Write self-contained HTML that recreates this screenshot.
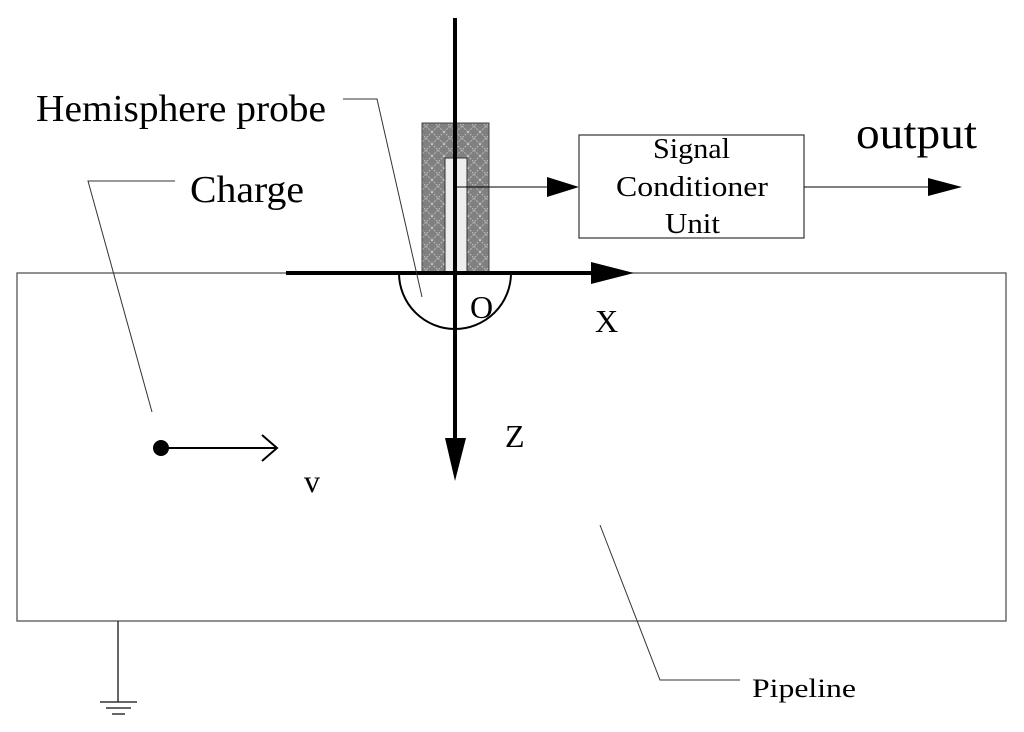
<!DOCTYPE html>
<html><head><style>body{margin:0;background:#fff}svg{display:block}text{font-family:"Liberation Serif",serif;fill:#000}</style></head>
<body>
<svg width="1024" height="732" viewBox="0 0 1024 732" xmlns="http://www.w3.org/2000/svg">
<defs>
<pattern id="hatch" width="12" height="12" patternUnits="userSpaceOnUse">
<rect width="12" height="12" fill="#808080"/>
<path d="M0 0L12 12M12 0L0 12" stroke="#c8c8c8" stroke-width="1" stroke-dasharray="1.5 1.5"/>
</pattern>
</defs>
<rect x="17" y="273" width="989" height="348" fill="none" stroke="#555" stroke-width="1.3"/>
<rect x="422" y="123" width="67" height="150" fill="url(#hatch)" stroke="#444" stroke-width="1"/>
<rect x="445" y="158" width="22" height="115" fill="#eee" stroke="#333" stroke-width="1"/>
<path d="M399 273 A56 56 0 0 0 511 273" fill="none" stroke="#000" stroke-width="2"/>
<line x1="286" y1="273" x2="595" y2="273" stroke="#000" stroke-width="4"/>
<polygon points="591,262 634,273 591,284" fill="#000"/>
<line x1="455" y1="18" x2="455" y2="442" stroke="#000" stroke-width="4"/>
<polygon points="445,438 466,438 455,481" fill="#000"/>
<line x1="455" y1="187" x2="550" y2="187" stroke="#000" stroke-width="1"/>
<polygon points="547,177 579,187 547,197" fill="#000"/>
<rect x="579" y="135" width="225" height="103" fill="none" stroke="#333" stroke-width="1.2"/>
<line x1="804" y1="187" x2="930" y2="187" stroke="#000" stroke-width="1"/>
<polygon points="928,178 962,187 928,196" fill="#000"/>
<polyline points="343,99 377,99 422,297" fill="none" stroke="#333" stroke-width="1"/>
<polyline points="175,181 88,181 152,412" fill="none" stroke="#333" stroke-width="1"/>
<polyline points="600,525 660,680 740,680" fill="none" stroke="#333" stroke-width="1"/>
<circle cx="161" cy="448" r="8" fill="#000"/>
<line x1="161" y1="448" x2="276" y2="448" stroke="#000" stroke-width="2"/>
<polyline points="262,435 277,448 262,461" fill="none" stroke="#000" stroke-width="2"/>
<line x1="118" y1="621" x2="118" y2="702" stroke="#333" stroke-width="1.5"/>
<line x1="100" y1="702" x2="137" y2="702" stroke="#333" stroke-width="1.5"/>
<line x1="106" y1="708" x2="131" y2="708" stroke="#333" stroke-width="1.5"/>
<line x1="112" y1="714" x2="125" y2="714" stroke="#333" stroke-width="1.5"/>
<text x="36" y="121" font-size="38" textLength="290" lengthAdjust="spacingAndGlyphs">Hemisphere probe</text>
<text x="190" y="202" font-size="38" textLength="114" lengthAdjust="spacingAndGlyphs">Charge</text>
<text x="856" y="148" font-size="44" textLength="121" lengthAdjust="spacingAndGlyphs">output</text>
<text x="653" y="158" font-size="28" textLength="77" lengthAdjust="spacingAndGlyphs">Signal</text>
<text x="616" y="196" font-size="28" textLength="152" lengthAdjust="spacingAndGlyphs">Conditioner</text>
<text x="665" y="233" font-size="28" textLength="55" lengthAdjust="spacingAndGlyphs">Unit</text>
<text x="470" y="318" font-size="32">O</text>
<text x="595" y="332" font-size="32">X</text>
<text x="505" y="447" font-size="32">Z</text>
<text x="304" y="492" font-size="32">v</text>
<text x="752" y="697" font-size="26" textLength="104" lengthAdjust="spacingAndGlyphs">Pipeline</text>
</svg>
</body></html>
